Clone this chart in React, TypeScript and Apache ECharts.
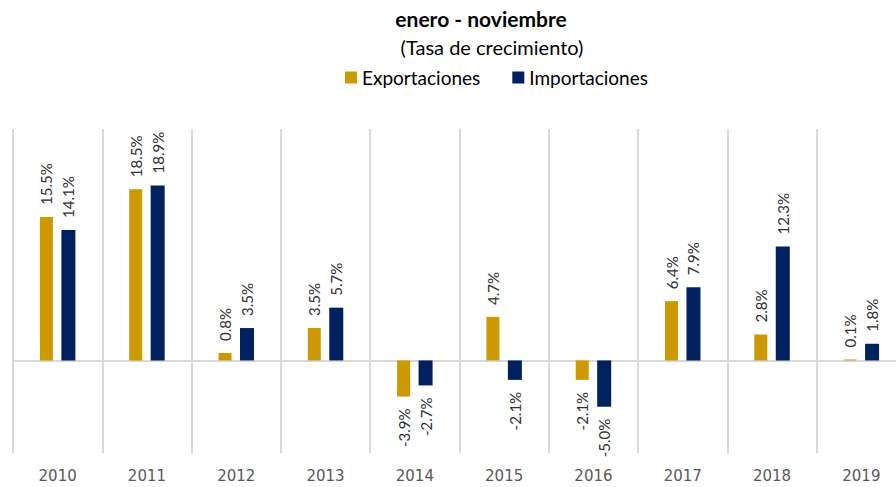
import React, { useEffect, useRef } from "react";
import * as echarts from "echarts";

const categories = ["2010", "2011", "2012", "2013", "2014", "2015", "2016", "2017", "2018", "2019"];
const exportaciones = [15.5, 18.5, 0.8, 3.5, -3.9, 4.7, -2.1, 6.4, 2.8, 0.1];
const importaciones = [14.1, 18.9, 3.5, 5.7, -2.7, -2.1, -5.0, 7.9, 12.3, 1.8];
const titleText = "enero - noviembre";
const subtitleText = "(Tasa de crecimiento)";
const seriesNames = ["Exportaciones", "Importaciones"];

const FONT = "Lato, 'Noto Sans', sans-serif";

export default function App() {
  const ref = useRef<HTMLDivElement>(null);
  useEffect(() => {
    if (!ref.current) return;
    const chart = echarts.init(ref.current, null, { renderer: "svg" });
    const mkData = (arr: number[]) =>
      arr.map((v) => ({ value: v, label: { align: v < 0 ? "right" : "left" } }));
    const label = {
      show: true,
      position: "outside",
      rotate: 90,
      verticalAlign: "middle",
      distance: 12,
      color: "#303030",
      fontFamily: FONT,
      fontSize: 15,
      formatter: (p: any) => Number(p.value).toFixed(1) + "%",
    };
    chart.setOption({
      animation: false,
      textStyle: { fontFamily: FONT },
      graphic: [
        {
          type: "text",
          x: 481,
          y: 18,
          style: {
            text: titleText,
            textAlign: "center",
            textVerticalAlign: "middle",
            font: `bold 21px ${FONT}`,
            fill: "#000",
          },
        },
        {
          type: "text",
          x: 492,
          y: 47,
          style: {
            text: subtitleText,
            textAlign: "center",
            textVerticalAlign: "middle",
            font: `20px ${FONT}`,
            fill: "#000",
          },
        },
      ],
      legend: {
        data: seriesNames,
        left: 340,
        top: 63,
        icon: "rect",
        itemWidth: 12,
        itemHeight: 12,
        itemGap: 32,
        textStyle: { fontSize: 19, color: "#000", fontFamily: FONT },
      },
      grid: {
        left: 13,
        top: 129,
        width: 893,
        height: 324,
        containLabel: false,
        outerBoundsMode: "none",
      },
      xAxis: {
        type: "category",
        data: categories,
        axisTick: { show: false },
        axisLine: { show: true, onZero: true, lineStyle: { color: "#d9d9d9", width: 2 } },
        splitLine: { show: true, lineStyle: { color: "#d9d9d9", width: 2 } },
        axisLabel: { color: "#595959", fontSize: 15, margin: 15, fontFamily: "'DejaVu Sans', sans-serif" },
      },
      yAxis: {
        type: "value",
        min: -10,
        max: 25,
        interval: 5,
        show: false,
        splitLine: { show: false },
      },
      series: [
        {
          name: seriesNames[0],
          type: "bar",
          data: mkData(exportaciones),
          barWidth: 13,
          barGap: "70%",
          itemStyle: { color: "#CC9900" },
          label,
        },
        {
          name: seriesNames[1],
          type: "bar",
          data: mkData(importaciones),
          barWidth: 14,
          barGap: "65%",
          itemStyle: { color: "#002060" },
          label,
        },
      ],
    });
    return () => chart.dispose();
  }, []);
  return <div ref={ref} style={{ width: 896, height: 487, position: "absolute", left: 0, top: 0 }} />;
}
